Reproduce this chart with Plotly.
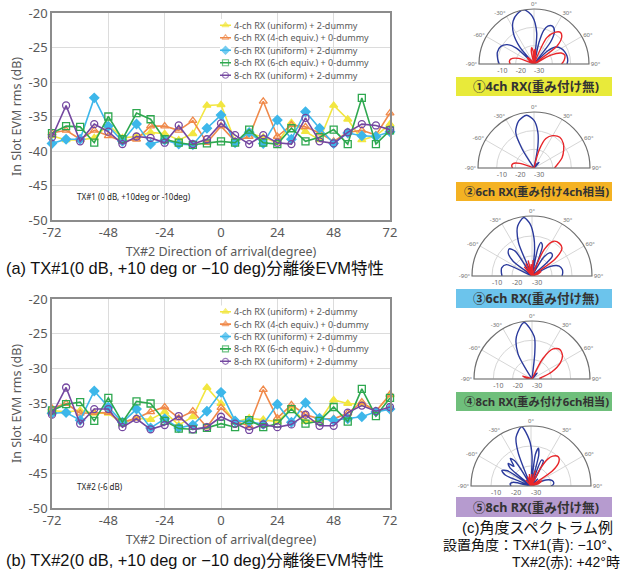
import plotly.graph_objects as go

W, H = 624, 570

# ---------------- data: EVM charts ----------------
DOA = [-72, -66, -60, -54, -48, -42, -36, -30, -24, -18, -12, -6, 0,
       6, 12, 18, 24, 30, 36, 42, 48, 54, 60, 66, 72]

SERIES_NAMES = ["4-ch RX (uniform) + 2-dummy",
                "6-ch RX (4-ch equiv.) + 0-dummy",
                "6-ch RX (uniform) + 2-dummy",
                "8-ch RX (6-ch equiv.) + 0-dummy",
                "8-ch RX (uniform) + 2-dummy"]

# (a) TX#1
A_4CH_UNI = [-37.8, -38.4, -38.4, -38.1, -36.2, -38.1, -37.9, -37.3, -37.5, -38.4, -37.5, -33.4, -33.3,
             -38.6, -37.4, -38.0, -38.8, -35.9, -37.2, -38.4, -33.4, -35.4, -38.4, -37.8, -36.1]
A_6CH_4EQ = [-37.4, -37.0, -38.3, -37.0, -37.8, -38.6, -38.3, -36.4, -36.4, -37.0, -35.6, -38.8, -36.4,
             -38.6, -37.9, -32.8, -37.9, -36.2, -36.5, -37.4, -38.6, -37.3, -37.0, -37.7, -34.5]
A_6CH_UNI = [-38.9, -38.3, -38.3, -32.3, -36.4, -38.6, -36.1, -39.0, -38.4, -39.0, -39.1, -36.7, -34.8,
             -38.8, -37.3, -38.9, -35.5, -38.3, -34.3, -36.7, -38.9, -37.4, -37.8, -37.9, -37.2]
A_8CH_6EQ = [-37.4, -36.4, -36.5, -38.8, -35.0, -38.3, -34.5, -35.4, -38.3, -38.8, -39.1, -38.9, -38.6,
             -38.8, -36.9, -38.8, -39.0, -36.7, -38.6, -38.0, -36.9, -39.0, -32.3, -39.0, -37.0]
A_8CH_UNI = [-38.0, -33.4, -38.6, -36.1, -37.2, -39.0, -37.9, -38.1, -38.8, -36.3, -39.0, -38.3, -36.0,
             -37.7, -39.0, -37.7, -38.8, -39.0, -35.2, -38.6, -38.9, -37.3, -36.1, -36.3, -36.9]

# (b) TX#2
B_4CH_UNI = [-36.0, -36.2, -36.0, -36.4, -36.4, -37.9, -37.1, -37.3, -36.2, -38.1, -36.9, -32.7, -35.0,
             -37.7, -37.1, -37.3, -37.6, -35.7, -37.6, -37.5, -34.5, -35.0, -35.1, -36.1, -33.8]
B_6CH_4EQ = [-35.7, -35.0, -36.4, -36.3, -36.3, -37.7, -37.1, -36.2, -35.5, -37.1, -36.1, -38.4, -35.6,
             -37.6, -38.2, -33.0, -37.1, -35.2, -36.6, -37.2, -37.2, -36.4, -34.8, -36.1, -33.7]
B_6CH_UNI = [-36.4, -36.3, -37.4, -33.2, -35.5, -37.7, -35.8, -38.5, -37.2, -38.5, -38.1, -36.1, -33.4,
             -37.5, -37.6, -38.0, -35.1, -37.7, -34.9, -37.1, -37.4, -37.2, -36.9, -36.2, -35.8]
B_8CH_6EQ = [-36.0, -35.1, -34.8, -37.5, -34.2, -37.7, -34.7, -35.0, -37.5, -38.6, -38.7, -38.5, -37.9,
             -38.4, -37.4, -38.4, -37.9, -35.8, -37.9, -37.5, -35.5, -37.6, -32.9, -36.8, -34.2]
B_8CH_UNI = [-36.6, -32.7, -37.9, -35.8, -35.8, -38.4, -37.2, -38.7, -38.1, -36.8, -38.7, -38.4, -36.9,
             -37.9, -38.8, -38.0, -38.4, -38.0, -36.6, -38.2, -38.2, -36.3, -35.3, -36.1, -35.5]

X_TICKS = [-72, -48, -24, 0, 24, 48, 72]
X_TICK_LABELS = ["-72", "-48", "-24", "0", "24", "48", "72"]
Y_TICKS = [-50, -45, -40, -35, -30, -25, -20]
Y_TICK_LABELS = ["-50", "-45", "-40", "-35", "-30", "-25", "-20"]

# ---------------- data: angle spectra (dB, -30 floor) ----------------
P1_BLUE_T = [-90, -82, -72, -62, -54, -48, -44, -40, -34, -26, -18, -10, -2, 5, 10, 13, 16, 20, 26, 32, 37, 41,
             46, 52, 60, 68, 76, 84, 90]
P1_BLUE_R = [-11, -10, -9, -9.5, -12, -17, -30, -18, -10, -4, -1, 0, -4, -13, -30, -18, -11, -8, -7, -9, -15, -30,
             -20, -15, -13, -12, -11.5, -11.5, -12]
P1_RED_T = [-90, -84, -78, -70, -62, -54, -46, -38, -30, -16, -12, -8, -4, -2, 1, 4, 8, 12, 18, 26, 34, 40, 46,
            52, 58, 62, 68, 74, 80, 86, 90]
P1_RED_R = [-17, -16.5, -17, -21, -30, -27, -25, -27, -30, -30, -23, -21, -23, -30, -24, -22, -24, -30, -30, -14,
            -9, -7.5, -9, -14, -30, -20, -14, -12.5, -13, -14, -15]

P2_BLUE_T = [-90, -50, -40, -32, -27, -18, -8, 0, 6, 10, 13, 30, 36, 42, 48, 90]
P2_BLUE_R = [-30, -30, -30, -18, -8.4, -3.5, -1.5, -4.5, -10.5, -18, -30, -30, -27, -26, -30, -30]
P2_RED_T = [-90, -84, -78, -72, -64, -30, 0, 12, 16, 22, 30, 40, 50, 60, 70, 80, 90]
P2_RED_R = [-18.5, -18, -18.5, -22, -30, -30, -30, -30, -20, -13, -10, -8.5, -9.5, -11.7, -14, -17, -19]

P3_BLUE_T = [-90, -82, -75, -66, -58, -52, -46, -40, -34, -28, -22, -16, -8, -2, 3, 6, 9, 12, 15, 19, 23, 27,
             32, 37, 41, 46, 51, 56, 62, 70, 78, 85, 90]
P3_BLUE_R = [-15, -14.5, -14.3, -16, -30, -18, -13.5, -12.3, -15, -30, -12, -4, -0.5, -4, -11, -18, -30, -16,
             -12.6, -14, -30, -30, -19, -15.5, -15, -16, -30, -30, -20, -15.5, -14.5, -14.6, -15]
P3_RED_T = [-90, -50, -40, -32, -26, -20, -14, -8, -4, 0, 4, 8, 18, 25, 32, 40, 47, 54, 58, 64, 72, 80, 90]
P3_RED_R = [-30, -30, -24, -30, -23, -30, -22, -30, -24, -30, -22, -30, -30, -15, -9.5, -8.7, -9.5, -16, -30,
            -25, -27, -30, -30]

P4_BLUE_T = [-90, -40, -34, -29, -20, -8, 3, 6, 10, 30, 36, 42, 48, 90]
P4_BLUE_R = [-30, -30, -30, -15, -6.5, -0.5, -8, -16, -30, -30, -27, -26, -30, -30]
P4_RED_T = [-90, -80, -72, -64, -40, 22, 28, 35, 43, 52, 60, 70, 78, 84, 90]
P4_RED_R = [-30, -27, -25, -30, -30, -30, -18, -11, -9, -10, -13, -19, -24, -26, -25]

P5_BLUE_T = [-90, -84, -78, -72, -67, -62, -57, -53, -49, -45, -41, -37, -33, -29, -25, -21, -17, -9, -2, 2, 5,
             8, 11, 14, 18, 22, 26, 30, 36, 44, 52, 60, 68, 76, 82, 87, 90]
P5_BLUE_R = [-20, -19.5, -21, -30, -16, -13.5, -16, -30, -16, -14, -17, -12.8, -15, -30, -30, -12, -4.5, 0, -7,
             -15, -30, -14, -10.8, -14, -30, -16, -16, -30, -30, -25, -30, -30, -22, -19, -18.5, -19, -20]
P5_RED_T = [-90, -50, -40, -30, -20, -14, -8, -2, 4, 10, 16, 22, 28, 32, 36, 43, 49, 55, 59, 64, 72, 80, 90]
P5_RED_R = [-30, -30, -26, -30, -25, -30, -24, -30, -24, -30, -22, -30, -20, -14, -11.5, -10, -11.5, -17, -30,
            -24, -26, -30, -30]

POLAR_LABELS = ["①4ch RX(重み付け無)", "②6ch RX(重み付け4ch相当)", "③6ch RX(重み付け無)",
                "④8ch RX(重み付け6ch相当)", "⑤8ch RX(重み付け無)"]
POLAR_TICKS = [-90, -60, -30, 0, 30, 60, 90]
POLAR_TICK_LABELS = ["-90°", "-60°", "-30°", "0°", "30°", "60°", "90°"]
R_TICKS = [-30, -20, -10]
R_TICK_LABELS = ["-30", "-20", "-10"]

# ---------------- styling ----------------
COLORS = ["#F2E640", "#F0894A", "#3DB7EA", "#2EA84F", "#7447A0"]
SYMBOLS = ["triangle-up", "triangle-up-open", "diamond", "square-open", "circle-open"]
BLUE = "#2B3A9C"
RED = "#E8262A"
BAR_COLORS = ["#E8EA3A", "#F4B223", "#6CC4EC", "#6FBF7B", "#B69BCF"]
BAR_FONT_SIZES = [12.6, 11.4, 12.6, 11.4, 12.6]
GRAY_TXT = "#595959"
FONT = "Noto Sans, Noto Sans CJK JP, sans-serif"
CAP_FONT = "Liberation Sans, Noto Sans CJK JP, sans-serif"


def px_x(v):
    return v / W


def px_y(v):
    return 1 - v / H


fig = go.Figure()

# main EVM lines
sets = [
    ([A_4CH_UNI, A_6CH_4EQ, A_6CH_UNI, A_8CH_6EQ, A_8CH_UNI], "x", "y"),
    ([B_4CH_UNI, B_6CH_4EQ, B_6CH_UNI, B_8CH_6EQ, B_8CH_UNI], "x2", "y2"),
]
for series, xa, ya in sets:
    for i, vals in enumerate(series):
        fig.add_trace(go.Scatter(
            x=DOA, y=vals, mode="lines+markers", name=SERIES_NAMES[i],
            xaxis=xa, yaxis=ya, showlegend=False,
            line=dict(color=COLORS[i], width=1.6),
            marker=dict(symbol=SYMBOLS[i], size=7, color=COLORS[i],
                        line=dict(color=COLORS[i], width=1.3)),
            cliponaxis=False,
        ))

# compact legends (one per chart): short sample line with a marker in the middle, plus the name
LEGEND_SAMPLE_X = [0, 0.5, 1]
LEGEND_SAMPLE_SIZE = [0, 6, 0]
legend_axes = [("x3", "y3"), ("x4", "y4")]
for xa, ya in legend_axes:
    for i, nm in enumerate(SERIES_NAMES):
        fig.add_trace(go.Scatter(
            x=LEGEND_SAMPLE_X, y=[i + 1] * 3, mode="lines+markers", xaxis=xa, yaxis=ya, showlegend=False,
            hoverinfo="skip", line=dict(color=COLORS[i], width=1.6),
            marker=dict(symbol=SYMBOLS[i], size=LEGEND_SAMPLE_SIZE, color=COLORS[i],
                        line=dict(color=COLORS[i], width=1.2)),
            cliponaxis=False,
        ))

axis_common = dict(showline=True, linecolor="#8C8C8C", linewidth=1.5, mirror=True,
                   showgrid=True, gridcolor="#DCDCDC", gridwidth=1, zeroline=False, automargin=False,
                   ticks="", tickfont=dict(family=FONT, size=13, color=GRAY_TXT))
hidden = dict(visible=False, showgrid=False, zeroline=False, automargin=False, fixedrange=True)

x_dom = [px_x(52), px_x(390)]
xtitle = dict(text="TX#2 Direction of arrival(degree)", font=dict(family=FONT, size=12.5, color=GRAY_TXT),
              standoff=7)
ytitle = dict(text="In Slot EVM rms (dB)", font=dict(family=FONT, size=12.5, color=GRAY_TXT), standoff=4)
leg_x_dom = [px_x(220), px_x(231)]
fig.update_layout(
    xaxis=dict(domain=x_dom, anchor="y", range=[-72, 72], tickvals=X_TICKS, ticktext=X_TICK_LABELS,
               title=xtitle, **axis_common),
    yaxis=dict(domain=[px_y(220), px_y(13)], anchor="x", range=[-50, -20], tickvals=Y_TICKS,
               ticktext=Y_TICK_LABELS, title=ytitle, **axis_common),
    xaxis2=dict(domain=x_dom, anchor="y2", range=[-72, 72], tickvals=X_TICKS, ticktext=X_TICK_LABELS,
                title=xtitle, **axis_common),
    yaxis2=dict(domain=[px_y(508), px_y(299)], anchor="x2", range=[-50, -20], tickvals=Y_TICKS,
                ticktext=Y_TICK_LABELS, title=ytitle, **axis_common),
    xaxis3=dict(domain=leg_x_dom, anchor="y3", range=[0, 1], **hidden),
    yaxis3=dict(domain=[px_y(81.5), px_y(19.0)], anchor="x3", range=[5.5, 0.5], **hidden),
    xaxis4=dict(domain=leg_x_dom, anchor="y4", range=[0, 1], **hidden),
    yaxis4=dict(domain=[px_y(367.5), px_y(305.5)], anchor="x4", range=[5.5, 0.5], **hidden),
)

annotations = []
for ya in ("y3", "y4"):
    for i, nm in enumerate(SERIES_NAMES):
        annotations.append(dict(x=1, y=i + 1, xref=ya.replace("y", "x"), yref=ya, xanchor="left",
                                yanchor="middle", xshift=1, text=nm, showarrow=False,
                                font=dict(family=FONT, size=9, color=GRAY_TXT)))

# ---------------- polar subplots ----------------
POLAR_GEOM = [(534, 64, 55), (534, 168, 56), (532, 276, 60), (532, 379, 58), (531, 486, 60)]
POLAR_DATA = [(P1_BLUE_T, P1_BLUE_R, P1_RED_T, P1_RED_R),
              (P2_BLUE_T, P2_BLUE_R, P2_RED_T, P2_RED_R),
              (P3_BLUE_T, P3_BLUE_R, P3_RED_T, P3_RED_R),
              (P4_BLUE_T, P4_BLUE_R, P4_RED_T, P4_RED_R),
              (P5_BLUE_T, P5_BLUE_R, P5_RED_T, P5_RED_R)]
BAR_Y = [(77, 96), (182, 201), (289, 308), (392, 411), (497, 517)]

shapes = []
for k, ((cx, cy, R), (bt, br, rt, rr)) in enumerate(zip(POLAR_GEOM, POLAR_DATA)):
    name = "polar" if k == 0 else f"polar{k + 1}"
    for th, rv, col in ((bt, br, BLUE), (rt, rr, RED)):
        fig.add_trace(go.Scatterpolar(theta=th, r=rv, mode="lines", subplot=name, showlegend=False,
                                      line=dict(color=col, width=1.4, shape="spline", smoothing=0.8)))
    fig.update_layout(**{name: dict(
        domain=dict(x=[px_x(cx - R), px_x(cx + R)], y=[px_y(cy), px_y(cy - R)]),
        sector=[0, 180], bgcolor="white",
        angularaxis=dict(rotation=90, direction="clockwise", tickvals=POLAR_TICKS,
                         ticktext=POLAR_TICK_LABELS, showline=True, linecolor="#6E6E6E", linewidth=1.2,
                         gridcolor="#D6D6D6", gridwidth=1, ticks="",
                         tickfont=dict(family=FONT, size=6, color="#6E6E6E")),
        radialaxis=dict(range=[-30, 0], angle=180, tickangle=180, side="counterclockwise",
                        tickvals=R_TICKS, ticktext=R_TICK_LABELS,
                        showline=False, gridcolor="#D6D6D6", gridwidth=1, ticks="",
                        tickfont=dict(family=FONT, size=7, color="#6E6E6E")),
    )})
    y0, y1 = BAR_Y[k]
    shapes.append(dict(type="rect", xref="paper", yref="paper", x0=px_x(456), x1=px_x(612),
                       y0=px_y(y1), y1=px_y(y0), fillcolor=BAR_COLORS[k], line=dict(width=0), layer="below"))
    annotations.append(dict(x=px_x(536), y=px_y((y0 + y1) / 2), xref="paper", yref="paper",
                            xanchor="center", yanchor="middle",
                            text=f"<b>{POLAR_LABELS[k]}</b>", showarrow=False,
                            font=dict(family=FONT, size=BAR_FONT_SIZES[k], color="#333333")))


def cap(x, y, text, size, xanchor="left", color="#111111", family=CAP_FONT):
    return dict(x=px_x(x), y=px_y(y), xref="paper", yref="paper", xanchor=xanchor, yanchor="middle",
                text=text, showarrow=False, font=dict(family=family, size=size, color=color))


annotations += [
    cap(75, 197, "TX#1 (0 dB, +10deg or -10deg)", 8, color="#222222", family=FONT),
    cap(75, 486, "TX#2 (-6 dB)", 8, color="#222222", family=FONT),
    cap(4, 268, "(a) TX#1(0 dB, +10 deg or −10 deg)分離後EVM特性", 16.4),
    cap(4, 560, "(b) TX#2(0 dB, +10 deg or −10 deg)分離後EVM特性", 16.4),
    cap(537, 527, "(c)角度スペクトラム例", 15, xanchor="center"),
    cap(623, 545, "設置角度：TX#1(青): −10°、", 14, xanchor="right"),
    cap(622, 562, "TX#2(赤): +42°時", 14, xanchor="right"),
]

fig.update_layout(width=W, height=H, margin=dict(l=0, r=0, t=0, b=0, autoexpand=False), paper_bgcolor="white",
                  plot_bgcolor="white", shapes=shapes, annotations=annotations, showlegend=False,
                  font=dict(family=FONT))

fig.write_html("out.html", config={"displayModeBar": False},
               post_script="document.body.style.margin='0';")
